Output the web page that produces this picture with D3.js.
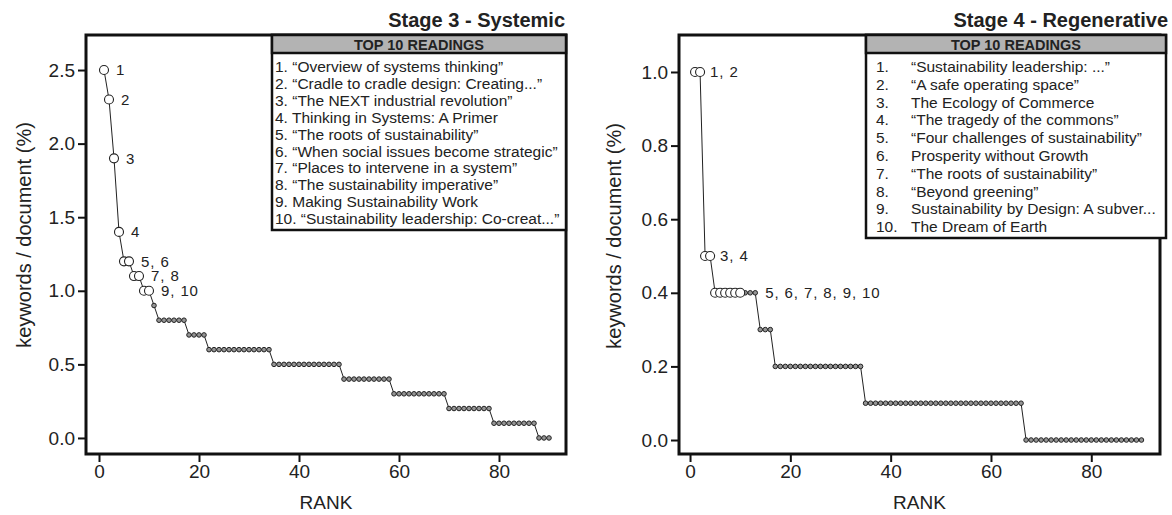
<!DOCTYPE html>
<html>
<head>
<meta charset="utf-8" />
<title>Top readings by rank</title>
<script src="https://d3js.org/d3.v7.min.js"></script>
<style>
  body { margin: 0; background: #fff; }
  svg text { font-family: "Liberation Sans", Arial, sans-serif; fill: #222; }
</style>
</head>
<body>
<svg id="chart" width="1172" height="515"></svg>
<script>

// keywords per document (%) by rank, ranks 1..90
var stage3Values = [
  2.5, 2.3, 1.9, 1.4, 1.2, 1.2, 1.1, 1.1, 1.0, 1.0, 0.9,
  0.8, 0.8, 0.8, 0.8, 0.8, 0.8,
  0.7, 0.7, 0.7, 0.7,
  0.6, 0.6, 0.6, 0.6, 0.6, 0.6, 0.6, 0.6, 0.6, 0.6, 0.6, 0.6, 0.6,
  0.5, 0.5, 0.5, 0.5, 0.5, 0.5, 0.5, 0.5, 0.5, 0.5, 0.5, 0.5, 0.5, 0.5,
  0.4, 0.4, 0.4, 0.4, 0.4, 0.4, 0.4, 0.4, 0.4, 0.4,
  0.3, 0.3, 0.3, 0.3, 0.3, 0.3, 0.3, 0.3, 0.3, 0.3, 0.3,
  0.2, 0.2, 0.2, 0.2, 0.2, 0.2, 0.2, 0.2, 0.2,
  0.1, 0.1, 0.1, 0.1, 0.1, 0.1, 0.1, 0.1, 0.1,
  0.0, 0.0, 0.0
];

var stage4Values = [
  1.0, 1.0, 0.5, 0.5,
  0.4, 0.4, 0.4, 0.4, 0.4, 0.4, 0.4, 0.4, 0.4,
  0.3, 0.3, 0.3,
  0.2, 0.2, 0.2, 0.2, 0.2, 0.2, 0.2, 0.2, 0.2, 0.2, 0.2, 0.2, 0.2, 0.2, 0.2, 0.2, 0.2, 0.2,
  0.1, 0.1, 0.1, 0.1, 0.1, 0.1, 0.1, 0.1, 0.1, 0.1, 0.1, 0.1, 0.1, 0.1, 0.1, 0.1,
  0.1, 0.1, 0.1, 0.1, 0.1, 0.1, 0.1, 0.1, 0.1, 0.1, 0.1, 0.1, 0.1, 0.1, 0.1, 0.1,
  0.0, 0.0, 0.0, 0.0, 0.0, 0.0, 0.0, 0.0, 0.0, 0.0, 0.0, 0.0,
  0.0, 0.0, 0.0, 0.0, 0.0, 0.0, 0.0, 0.0, 0.0, 0.0, 0.0, 0.0
];

var stage3LabelText = ["1", "2", "3", "4", "5, 6", "7, 8", "9, 10"];
var stage3LabelRank = [1, 2, 3, 4, 6, 8, 10];
var stage4LabelText = ["1, 2", "3, 4", "5, 6, 7, 8, 9, 10"];
var stage4LabelRank = [2, 4, 13];

var stage3Readings = [
  "\u201COverview of systems thinking\u201D",
  "\u201CCradle to cradle design: Creating...\u201D",
  "\u201CThe NEXT industrial revolution\u201D",
  "Thinking in Systems: A Primer",
  "\u201CThe roots of sustainability\u201D",
  "\u201CWhen social issues become strategic\u201D",
  "\u201CPlaces to intervene in a system\u201D",
  "\u201CThe sustainability imperative\u201D",
  "Making Sustainability Work",
  "\u201CSustainability leadership: Co-creat...\u201D"
];
var stage4Readings = [
  "\u201CSustainability leadership: ...\u201D",
  "\u201CA safe operating space\u201D",
  "The Ecology of Commerce",
  "\u201CThe tragedy of the commons\u201D",
  "\u201CFour challenges of sustainability\u201D",
  "Prosperity without Growth",
  "\u201CThe roots of sustainability\u201D",
  "\u201CBeyond greening\u201D",
  "Sustainability by Design: A subver...",
  "The Dream of Earth"
];

var xTicks = [0, 20, 40, 60, 80];
var stage3YTicks = [0, 0.5, 1.0, 1.5, 2.0, 2.5];
var stage4YTicks = [0, 0.2, 0.4, 0.6, 0.8, 1.0];

var svg = d3.select("#chart");

function drawPanel(p) {
  var g = svg.append("g");

  var x = d3.scaleLinear().domain(p.xDomain).range([p.left, p.right]);
  var y = d3.scaleLinear().domain(p.yDomain).range([p.bottom, p.top]);

  var data = p.values.map(function (v, i) {
    return { rank: i + 1, value: v, top: i < 10 };
  });

  // axes
  var yAxis = g.append("g")
    .attr("transform", "translate(" + p.left + ",0)")
    .call(d3.axisLeft(y).tickValues(p.yTicks).tickFormat(d3.format(".1f")).tickSize(8).tickPadding(3));
  var xAxis = g.append("g")
    .attr("transform", "translate(0," + p.bottom + ")")
    .call(d3.axisBottom(x).tickValues(xTicks).tickSize(8).tickPadding(3));

  [yAxis, xAxis].forEach(function (a) {
    a.select(".domain").remove();
    a.selectAll(".tick line").attr("stroke", "#111").attr("stroke-width", 2);
    a.selectAll(".tick text").style("font-size", "19px").attr("fill", "#222");
  });

  // frame
  g.append("rect")
    .attr("x", p.left).attr("y", p.top)
    .attr("width", p.right - p.left).attr("height", p.bottom - p.top)
    .attr("fill", "none").attr("stroke", "#111").attr("stroke-width", 3);

  // line through points
  var line = d3.line()
    .x(function (d) { return x(d.rank); })
    .y(function (d) { return y(d.value); });
  g.append("path").datum(data)
    .attr("d", line)
    .attr("fill", "none").attr("stroke", "#222").attr("stroke-width", 1);

  // other points first, top 10 on top
  g.selectAll("circle.rest")
    .data(data.filter(function (d) { return !d.top; }))
    .enter().append("circle")
    .attr("class", "rest")
    .attr("cx", function (d) { return x(d.rank); })
    .attr("cy", function (d) { return y(d.value); })
    .attr("r", 2.3)
    .attr("fill", "#959595").attr("stroke", "#222").attr("stroke-width", 1);

  g.selectAll("circle.top")
    .data(data.filter(function (d) { return d.top; }))
    .enter().append("circle")
    .attr("class", "top")
    .attr("cx", function (d) { return x(d.rank); })
    .attr("cy", function (d) { return y(d.value); })
    .attr("r", 4.5)
    .attr("fill", "#fff").attr("stroke", "#222").attr("stroke-width", 1.1);

  // point labels
  g.selectAll("text.plabel")
    .data(p.labelText)
    .enter().append("text")
    .attr("class", "plabel")
    .attr("x", function (d, i) { return x(p.labelRank[i]) + p.labelDx; })
    .attr("y", function (d, i) { return y(p.values[p.labelRank[i] - 1]); })
    .attr("dy", "0.35em")
    .style("font-size", "15px")
    .style("letter-spacing", "0.9px")
    .text(function (d) { return d; });

  // axis titles
  g.append("text")
    .attr("transform", "translate(" + p.yTitleX + "," + p.yTitleY + ") rotate(-90)")
    .attr("text-anchor", "middle")
    .style("font-size", "20px")
    .text("keywords / document (%)");
  g.append("text")
    .attr("x", (p.left + p.right) / 2).attr("y", 509)
    .attr("text-anchor", "middle")
    .style("font-size", "19px")
    .text("RANK");

  // panel title
  g.append("text")
    .attr("x", p.titleX).attr("y", 27)
    .attr("text-anchor", "end")
    .style("font-size", "20px").style("font-weight", "bold")
    .attr("fill", "#111")
    .text(p.title);

  // top 10 box
  var L = p.legend;
  var lg = g.append("g");
  lg.append("rect")
    .attr("x", L.x0).attr("y", p.top)
    .attr("width", L.x1 - L.x0).attr("height", L.y1 - p.top)
    .attr("fill", "#fff").attr("stroke", "#111").attr("stroke-width", 2.5);
  lg.append("rect")
    .attr("x", L.x0).attr("y", p.top)
    .attr("width", L.x1 - L.x0).attr("height", 18)
    .attr("fill", "#b3b3b3").attr("stroke", "#111").attr("stroke-width", 2.5);
  lg.append("text")
    .attr("x", (L.x0 + L.x1) / 2).attr("y", p.top + 15)
    .attr("text-anchor", "middle")
    .style("font-size", "14.5px").style("font-weight", "bold")
    .text("TOP 10 READINGS");

  var rows = lg.selectAll("g.row")
    .data(p.readings)
    .enter().append("g")
    .attr("class", "row")
    .attr("transform", function (d, i) { return "translate(0," + (p.top + 37 + i * L.rowH) + ")"; });

  if (L.numCol) {
    rows.append("text")
      .attr("x", L.x0 + 10)
      .style("font-size", "15.5px").attr("fill", "#333")
      .text(function (d, i) { return (i + 1) + "."; });
    rows.append("text")
      .attr("x", L.x0 + 45)
      .style("font-size", "15.5px").attr("fill", "#333")
      .text(function (d) { return d; });
  } else {
    rows.append("text")
      .attr("x", L.x0 + 3)
      .style("font-size", "15.5px").attr("fill", "#333")
      .text(function (d, i) { return (i + 1) + ". " + d; });
  }
}

drawPanel({
  values: stage3Values,
  labelText: stage3LabelText,
  labelRank: stage3LabelRank,
  labelDx: 12,
  readings: stage3Readings,
  yTicks: stage3YTicks,
  xDomain: [-2.6, 93.4],
  yDomain: [-0.109, 2.738],
  left: 86, right: 566, top: 35, bottom: 454,
  yTitleX: 31, yTitleY: 235,
  title: "Stage 3 - Systemic", titleX: 565,
  legend: { x0: 272, x1: 566, y1: 230, rowH: 16.9, numCol: false }
});

drawPanel({
  values: stage4Values,
  labelText: stage4LabelText,
  labelRank: stage4LabelRank,
  labelDx: 10,
  readings: stage4Readings,
  yTicks: stage4YTicks,
  xDomain: [-2.2, 93.7],
  yDomain: [-0.038, 1.1005],
  left: 679, right: 1160, top: 35, bottom: 454,
  yTitleX: 621, yTitleY: 236,
  title: "Stage 4 - Regenerative", titleX: 1168,
  legend: { x0: 866, x1: 1166, y1: 238, rowH: 17.8, numCol: true }
});

</script>
</body>
</html>
